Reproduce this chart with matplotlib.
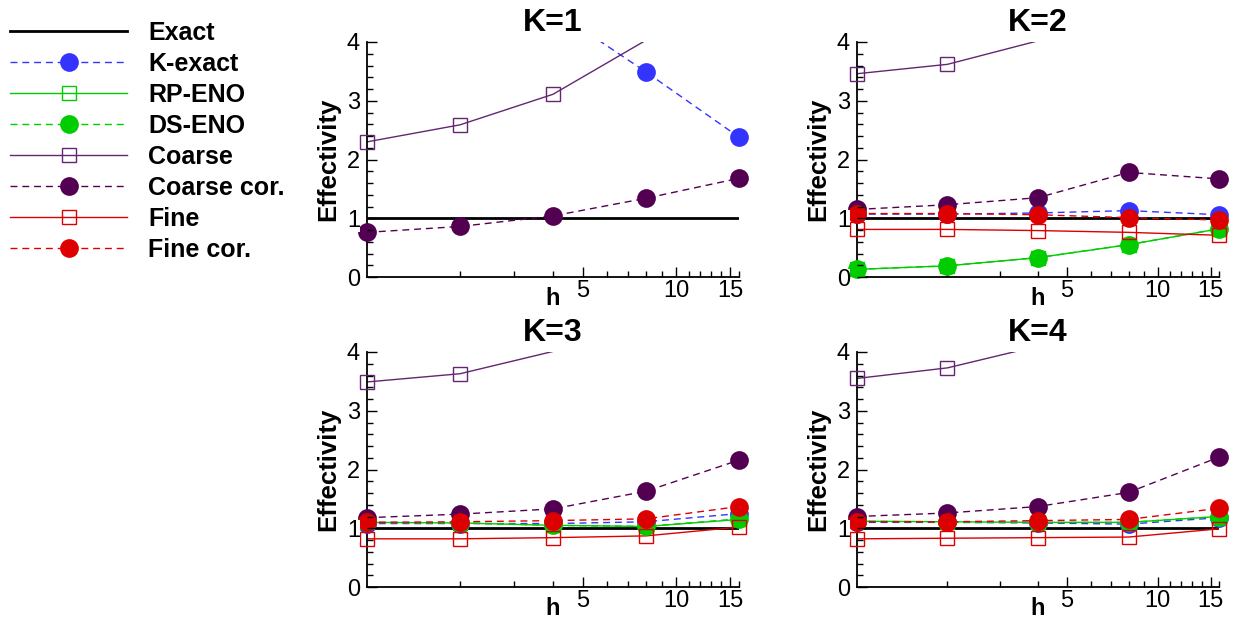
import matplotlib
matplotlib.use("Agg")
import matplotlib.pyplot as plt
from matplotlib.lines import Line2D
from matplotlib.ticker import FixedLocator, FixedFormatter, MultipleLocator, NullFormatter

plt.rcParams["font.family"] = ["Liberation Sans", "DejaVu Sans"]

# mesh size h and effectivity index per reconstruction order K
h = [1, 2, 4, 8, 16]
orders = [1, 2, 3, 4]

exact = [1.0, 1.0, 1.0, 1.0, 1.0]
k_exact = {
    1: [6.0, 5.2, 4.55, 3.49, 2.38],
    2: [1.07, 1.07, 1.09, 1.13, 1.06],
    3: [1.08, 1.08, 1.08, 1.11, 1.25],
    4: [1.10, 1.10, 1.09, 1.07, 1.18],
}
rp_eno = {
    1: None,
    2: [0.13, 0.19, 0.33, 0.55, 0.82],
    3: [1.10, 1.09, 1.05, 1.03, 1.15],
    4: [1.12, 1.11, 1.10, 1.10, 1.20],
}
ds_eno = {
    1: None,
    2: [0.13, 0.19, 0.33, 0.55, 0.82],
    3: [1.10, 1.09, 1.05, 1.03, 1.16],
    4: [1.12, 1.11, 1.10, 1.10, 1.20],
}
coarse = {
    1: [2.30, 2.59, 3.11, 4.03, 5.0],
    2: [3.46, 3.62, 4.02, 4.5, 5.0],
    3: [3.49, 3.63, 4.01, 4.5, 5.0],
    4: [3.55, 3.73, 4.10, 4.6, 5.1],
}
coarse_cor = {
    1: [0.76, 0.86, 1.04, 1.34, 1.68],
    2: [1.15, 1.23, 1.35, 1.78, 1.67],
    3: [1.18, 1.24, 1.33, 1.63, 2.16],
    4: [1.20, 1.26, 1.37, 1.61, 2.21],
}
fine = {
    1: None,
    2: [0.81, 0.81, 0.79, 0.76, 0.71],
    3: [0.82, 0.82, 0.84, 0.87, 1.02],
    4: [0.82, 0.83, 0.84, 0.85, 0.99],
}
fine_cor = {
    1: None,
    2: [1.08, 1.08, 1.06, 1.01, 0.97],
    3: [1.10, 1.11, 1.13, 1.16, 1.37],
    4: [1.11, 1.11, 1.13, 1.15, 1.34],
}

BLUE = "#3434ff"
GREEN = "#00cc00"
PURPLE = "#642672"
DARK_PURPLE = "#540052"
RED = "#dd0000"

YMAX = 4.0

# name, data, color, linestyle, marker, linewidth
series = [
    ("Exact", None, "black", "-", None, 2.0),
    ("K-exact", k_exact, BLUE, "--", "o", 1.0),
    ("RP-ENO", rp_eno, GREEN, "-", "s", 1.0),
    ("DS-ENO", ds_eno, GREEN, "--", "o", 1.0),
    ("Coarse", coarse, PURPLE, "-", "s", 1.0),
    ("Coarse cor.", coarse_cor, DARK_PURPLE, "--", "o", 1.0),
    ("Fine", fine, RED, "-", "s", 1.0),
    ("Fine cor.", fine_cor, RED, "--", "o", 1.0),
]


def marker_style(color, marker):
    if marker == "o":
        return dict(marker="o", markersize=13.5, markerfacecolor=color,
                    markeredgecolor=color, markeredgewidth=0)
    return dict(marker="s", markersize=9.5, markerfacecolor="none",
                markeredgecolor=color, markeredgewidth=1.0)


def draw_panel(ax, k):
    for name, data, color, ls, marker, lw in series:
        vals = exact if data is None else data[k]
        if vals is None:
            continue
        dash = dict(dashes=(5, 3.5)) if ls == "--" else {}
        ax.plot(h, vals, color=color, linestyle=ls, linewidth=lw, **dash)
        if marker:
            # markers only for points inside the y range, allowed to overhang the frame
            hx = [x for x, v in zip(h, vals) if v <= YMAX]
            hv = [v for v in vals if v <= YMAX]
            ax.plot(hx, hv, linestyle="none", clip_on=False, zorder=3,
                    **marker_style(color, marker))

    ax.set_xscale("log")
    ax.set_xlim(1, 16)
    ax.set_ylim(0, YMAX)
    ax.xaxis.set_major_locator(FixedLocator([5, 10, 15]))
    ax.xaxis.set_major_formatter(FixedFormatter(["5", "10", "15"]))
    ax.xaxis.set_minor_locator(FixedLocator([2, 3, 4, 6, 7, 8, 9, 11, 12, 13, 14, 16]))
    ax.xaxis.set_minor_formatter(NullFormatter())
    ax.yaxis.set_major_locator(MultipleLocator(1))
    ax.yaxis.set_minor_locator(MultipleLocator(0.2))

    for side in ("top", "right"):
        ax.spines[side].set_visible(False)
    for side in ("left", "bottom"):
        ax.spines[side].set_linewidth(1.3)

    ax.tick_params(which="both", direction="in", width=1.0, labelsize=17)
    ax.tick_params(which="major", length=7)
    ax.tick_params(which="minor", length=4)
    ax.tick_params(axis="y", pad=5)
    ax.tick_params(axis="x", pad=2)
    ax.yaxis.set_zorder(4)
    for lab in ax.get_yticklabels():
        lab.set_bbox(dict(facecolor="white", edgecolor="none", pad=0))

    ax.set_title(f"K={k}", fontsize=23, fontweight="bold", pad=8)
    ax.set_ylabel("Effectivity", fontsize=18.5, fontweight="bold", labelpad=5)
    ax.annotate("h", xy=(4, 0), xycoords=("data", "axes fraction"),
                xytext=(0, -7), textcoords="offset points",
                ha="center", va="top", fontsize=17, fontweight="bold")


fig = plt.figure(figsize=(12.36, 6.21), dpi=100)
W, H = 1236, 621
boxes = {
    1: (367, 42, 739, 277),
    2: (857, 42, 1219, 277),
    3: (367, 352, 739, 587),
    4: (857, 352, 1219, 587),
}
for k in orders:
    x0, y0, x1, y1 = boxes[k]
    ax = fig.add_axes([x0 / W, 1 - y1 / H, (x1 - x0) / W, (y1 - y0) / H])
    draw_panel(ax, k)

handles = []
for name, data, color, ls, marker, lw in series:
    kw = marker_style(color, marker) if marker else {}
    dash = dict(dashes=(5, 3.5)) if ls == "--" else {}
    handles.append(Line2D([], [], color=color, linestyle=ls, linewidth=lw, **dash, **kw))

fig.legend(handles, [s[0] for s in series], loc="upper left",
           bbox_to_anchor=(10 / W, 1 - 21 / H), frameon=False, numpoints=1,
           prop=dict(size=18, weight="bold"), handlelength=4.68,
           handletextpad=0.84, labelspacing=0.28, borderpad=0, borderaxespad=0)

fig.savefig("out.png", dpi=100)
